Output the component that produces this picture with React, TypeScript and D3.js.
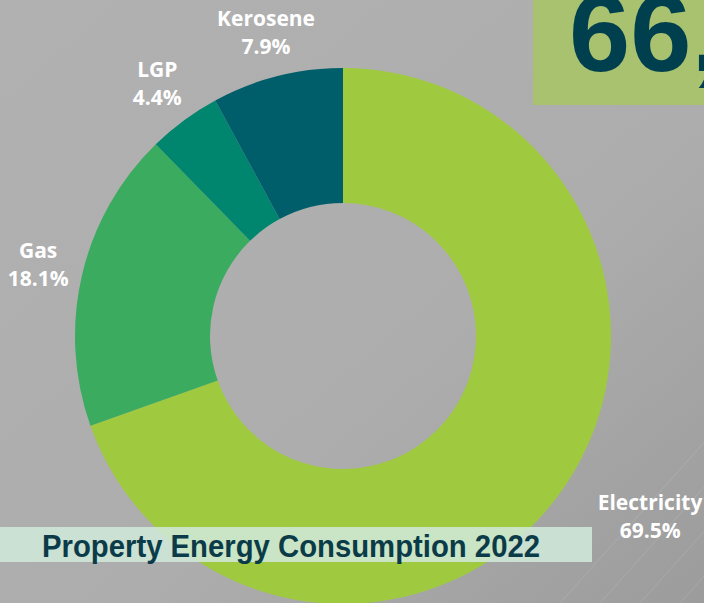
import React from "react";
import * as d3 from "d3";

const categories = ["Electricity", "Gas", "LGP", "Kerosene"];
const values = [69.5, 18.1, 4.4, 7.9];
const colors = ["#9fca3f", "#3aab5f", "#00866f", "#005e6b"];
const title = "Property Energy Consumption 2022";
const bigNumber = "66,";

const W = 704;
const H = 603;

export default function App() {
  const cx = 343;
  const cy = 336;
  const outerR = 268;
  const innerR = 133;
  const labelR = 313;

  const data = categories.map((c, i) => ({ label: c, value: values[i], color: colors[i] }));
  const pie = d3.pie<any>().value((d: any) => d.value).sort(null);
  const arcs = pie(data);
  const arcGen = d3.arc<any>().innerRadius(innerR).outerRadius(outerR);

  const bgLines = d3.range(6);

  return (
    <svg width={W} height={H} style={{ position: "absolute", left: 0, top: 0, display: "block" }}>
      <defs>
        <linearGradient id="bg" x1="0" y1="0" x2="1" y2="1">
          <stop offset="0" stopColor="#b1b1b1" />
          <stop offset="0.6" stopColor="#adadad" />
          <stop offset="1" stopColor="#9c9c9c" />
        </linearGradient>
      </defs>
      <rect x={0} y={0} width={W} height={H} fill="url(#bg)" />
      {bgLines.map((i) => (
        <line
          key={i}
          x1={560 + i * 40}
          y1={H}
          x2={760 + i * 40}
          y2={380}
          stroke="#ffffff"
          strokeOpacity={0.12}
          strokeWidth={1}
        />
      ))}
      <rect x={533} y={0} width={W - 533} height={105} fill="#a8c270" />
      <text
        x={569}
        y={71}
        fontFamily="Liberation Sans, Arial, sans-serif"
        fontWeight="bold"
        fontSize={110}
        fill="#003f4d"
      >
        {bigNumber}
      </text>
      <g transform={`translate(${cx},${cy})`}>
        {arcs.map((a, i) => (
          <path key={i} d={arcGen(a) as string} fill={a.data.color} />
        ))}
        {arcs.map((a, i) => {
          const mid = (a.startAngle + a.endAngle) / 2;
          const s = Math.sin(mid);
          const c = -Math.cos(mid);
          const x = labelR * s;
          const y = labelR * c;
          const anchor = s > 0.5 ? "start" : "middle";
          const xo = s > 0.5 ? -1 : 0;
          return (
            <text
              key={"l" + i}
              x={x + xo}
              y={y}
              textAnchor={anchor}
              fontFamily="Open Sans, sans-serif"
              fontWeight="bold"
              fontSize={21}
              fill="#ffffff"
            >
              <tspan x={x + xo} dy={-7}>{a.data.label}</tspan>
              <tspan x={x + xo + (anchor === "start" ? 22 : 0)} dy={28}>{`${a.data.value}%`}</tspan>
            </text>
          );
        })}
      </g>
      <rect x={0} y={527} width={592} height={35} fill="#cfe8d8" fillOpacity={0.88} />
      <text
        x={42}
        y={557}
        fontFamily="Liberation Sans, Arial, sans-serif"
        fontWeight="bold"
        fontSize={32}
        fill="#0b3b48"
        textLength={498}
        lengthAdjust="spacingAndGlyphs"
      >
        {title}
      </text>
    </svg>
  );
}
